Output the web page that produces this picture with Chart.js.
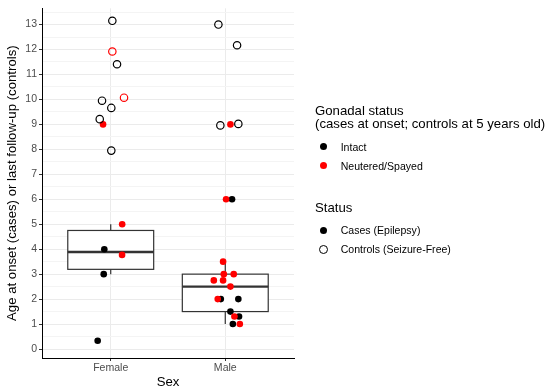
<!DOCTYPE html>
<html>
<head>
<meta charset="utf-8">
<script src="https://cdn.jsdelivr.net/npm/chart.js@4/dist/chart.umd.min.js"></script>
<style>
  html, body { margin: 0; padding: 0; background: #fff; }
  #wrap { position: relative; width: 550px; height: 391px; overflow: hidden; font-family: 'Liberation Sans', Arial, Helvetica, sans-serif; }
  canvas { position: absolute; left: 0; top: 0; }
  .lt { position: absolute; font-size: 13.2px; line-height: 16px; color: #000; white-space: nowrap; }
  .li { position: absolute; font-size: 10.56px; line-height: 14px; color: #000; white-space: nowrap; }
  .dot { position: absolute; border-radius: 50%; box-sizing: border-box; }
</style>
</head>
<body>
<div id="wrap">
  <canvas id="c" width="550" height="391"></canvas>
  <div class="lt" style="left:315px; top:102.5px;">Gonadal status</div>
  <div class="lt" style="left:315px; top:116.3px;">(cases at onset; controls at 5 years old)</div>
  <div class="dot" style="left:319.8px; top:143.2px; width:7px; height:7px; background:#000;"></div>
  <div class="li" style="left:340.7px; top:139.7px;">Intact</div>
  <div class="dot" style="left:319.8px; top:162.2px; width:7px; height:7px; background:#ff0000;"></div>
  <div class="li" style="left:340.7px; top:158.7px;">Neutered/Spayed</div>
  <div class="lt" style="left:315px; top:200.3px;">Status</div>
  <div class="dot" style="left:319.8px; top:226.5px; width:7px; height:7px; background:#000;"></div>
  <div class="li" style="left:340.7px; top:223px;">Cases (Epilepsy)</div>
  <div class="dot" style="left:318.8px; top:244.5px; width:9px; height:9px; border:1.2px solid #000;"></div>
  <div class="li" style="left:340.7px; top:242px;">Controls (Seizure-Free)</div>
</div>
<script>
// ---------- data ----------
const categories = ['Female', 'Male'];
const yTicks = [0, 1, 2, 3, 4, 5, 6, 7, 8, 9, 10, 11, 12, 13];

// Female
const femaleCaseIntact        = [4.0, 3.0, 0.33];
const femaleCaseIntactJitter  = [-0.056, -0.061, -0.114];
const femaleCaseNeutered      = [9.0, 5.0, 3.77];
const femaleCaseNeuteredJitter= [-0.067, 0.10, 0.099];
const femaleCtrlIntact        = [13.15, 11.41, 9.95, 9.66, 9.21, 7.95];
const femaleCtrlIntactJitter  = [0.014, 0.055, -0.076, 0.005, -0.096, 0.005];
const femaleCtrlNeutered      = [11.92, 10.07];
const femaleCtrlNeuteredJitter= [0.014, 0.116];

// Male
const maleCaseIntact          = [6.0, 2.0, 2.0, 1.5, 1.3, 1.0];
const maleCaseIntactJitter    = [0.059, -0.039, 0.114, 0.045, 0.12, 0.066];
const maleCaseNeutered        = [9.0, 6.0, 3.5, 3.0, 3.0, 2.75, 2.75, 2.5, 2.0, 1.3, 1.0];
const maleCaseNeuteredJitter  = [0.045, 0.007, -0.019, -0.013, 0.074, -0.10, -0.019, 0.045, -0.066, 0.08, 0.127];
const maleCtrlIntact          = [13.0, 12.17, 8.96, 9.02];
const maleCtrlIntactJitter    = [-0.06, 0.103, -0.043, 0.114];
const maleCtrlNeutered        = [];
const maleCtrlNeuteredJitter  = [];

// ---------- helpers ----------
function pts(catIdx, vals, jit) {
  return vals.map((v, i) => ({ x: catIdx + 1 + jit[i], y: v }));
}
function quantile(s, p) {
  const h = (s.length - 1) * p, lo = Math.floor(h);
  const hi = Math.min(lo + 1, s.length - 1);
  return s[lo] + (h - lo) * (s[hi] - s[lo]);
}
function boxStats(vals) {
  const s = vals.slice().sort((a, b) => a - b);
  const q1 = quantile(s, 0.25), med = quantile(s, 0.5), q3 = quantile(s, 0.75);
  const iqr = q3 - q1;
  const lo = Math.min(...s.filter(v => v >= q1 - 1.5 * iqr));
  const hi = Math.max(...s.filter(v => v <= q3 + 1.5 * iqr));
  return { q1, med, q3, lo, hi };
}
const boxes = [
  boxStats(femaleCaseIntact.concat(femaleCaseNeutered)),
  boxStats(maleCaseIntact.concat(maleCaseNeutered))
];

const RED = '#ff0000', BLACK = '#000000';

const boxPlugin = {
  id: 'boxes',
  beforeDatasetsDraw(chart) {
    const ctx = chart.ctx, xs = chart.scales.x, ys = chart.scales.y;
    ctx.save();
    ctx.strokeStyle = '#333333';
    boxes.forEach((b, i) => {
      const cx = xs.getPixelForValue(i + 1);
      const x0 = xs.getPixelForValue(i + 1 - 0.375);
      const x1 = xs.getPixelForValue(i + 1 + 0.375);
      const yq1 = ys.getPixelForValue(b.q1), yq3 = ys.getPixelForValue(b.q3);
      const ymed = ys.getPixelForValue(b.med);
      const ylo = ys.getPixelForValue(b.lo), yhi = ys.getPixelForValue(b.hi);
      ctx.lineWidth = 1.2;
      ctx.beginPath();
      ctx.moveTo(cx, yq3); ctx.lineTo(cx, yhi);
      ctx.moveTo(cx, yq1); ctx.lineTo(cx, ylo);
      ctx.stroke();
      ctx.fillStyle = '#ffffff';
      ctx.fillRect(x0, yq3, x1 - x0, yq1 - yq3);
      ctx.strokeRect(x0, yq3, x1 - x0, yq1 - yq3);
      ctx.lineWidth = 2.4;
      ctx.beginPath();
      ctx.moveTo(x0, ymed); ctx.lineTo(x1, ymed);
      ctx.stroke();
    });
    ctx.restore();
  }
};

const filled = (data, color) => ({
  data, pointRadius: 3.3, pointBorderWidth: 0, pointBackgroundColor: color, pointBorderColor: color, showLine: false
});
const open = (data, color) => ({
  data, pointRadius: 3.7, pointBorderWidth: 1.2, pointBackgroundColor: 'rgba(0,0,0,0)', pointBorderColor: color, showLine: false
});

new Chart(document.getElementById('c'), {
  type: 'scatter',
  data: {
    datasets: [
      open(pts(0, femaleCtrlIntact, femaleCtrlIntactJitter).concat(pts(1, maleCtrlIntact, maleCtrlIntactJitter)), BLACK),
      open(pts(0, femaleCtrlNeutered, femaleCtrlNeuteredJitter).concat(pts(1, maleCtrlNeutered, maleCtrlNeuteredJitter)), RED),
      filled(pts(0, femaleCaseNeutered, femaleCaseNeuteredJitter).concat(pts(1, maleCaseNeutered, maleCaseNeuteredJitter)), RED),
      filled(pts(0, femaleCaseIntact, femaleCaseIntactJitter).concat(pts(1, maleCaseIntact, maleCaseIntactJitter)), BLACK)
    ]
  },
  plugins: [boxPlugin],
  options: {
    responsive: false,
    animation: false,
    events: [],
    layout: { padding: { top: 5, right: 256, left: 0, bottom: 0 } },
    plugins: { legend: { display: false }, tooltip: { enabled: false } },
    font: { family: "'Liberation Sans', Arial, sans-serif" },
    scales: {
      x: {
        type: 'linear', min: 0.4, max: 2.6,
        afterBuildTicks(scale) { scale.ticks = categories.map((c, i) => ({ value: i + 1 })); },
        afterFit(scale) { scale.height = 33; },
        ticks: {
          autoSkip: false, padding: 1, color: '#4D4D4D',
          font: { family: "'Liberation Sans', Arial, sans-serif", size: 10.56 },
          callback: (v) => categories[Math.round(v) - 1]
        },
        grid: { color: '#EBEBEB', lineWidth: 1, tickLength: 3, tickColor: '#333333', tickWidth: 1 },
        border: { display: true, color: '#000000', width: 1 },
        title: {
          display: true, text: 'Sex', color: '#000',
          font: { family: "'Liberation Sans', Arial, sans-serif", size: 13.2 },
          padding: { top: 0, bottom: 1 }
        }
      },
      y: {
        type: 'linear', min: -0.36, max: 13.65,
        afterBuildTicks(scale) {
          const t = [];
          yTicks.forEach(v => { t.push({ value: v }); t.push({ value: v + 0.5 }); });
          scale.ticks = t.filter(o => o.value <= 13.65);
        },
        afterFit(scale) { scale.width = 42; },
        ticks: {
          autoSkip: false, padding: 2, color: '#4D4D4D',
          font: { family: "'Liberation Sans', Arial, sans-serif", size: 10.56 },
          callback: (v) => yTicks.includes(v) ? String(v) : ''
        },
        grid: {
          color: (c) => (c.tick && yTicks.includes(c.tick.value)) ? '#EBEBEB' : '#F4F4F4',
          lineWidth: 1, tickLength: 3,
          tickColor: (c) => (c.tick && yTicks.includes(c.tick.value)) ? '#333333' : 'rgba(0,0,0,0)',
          tickWidth: 1
        },
        border: { display: true, color: '#000000', width: 1 },
        title: {
          display: true, text: 'Age at onset (cases) or last follow-up (controls)', color: '#000',
          font: { family: "'Liberation Sans', Arial, sans-serif", size: 13.2 },
          padding: { top: 4, bottom: 0 }
        }
      }
    }
  }
});
</script>
</body>
</html>
